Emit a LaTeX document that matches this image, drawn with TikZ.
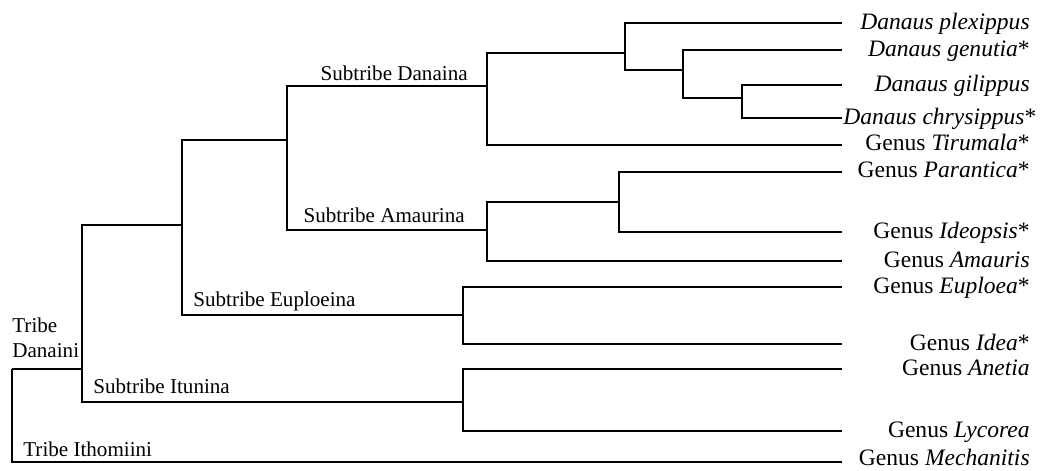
\documentclass[tikz,border=0pt]{standalone}
\usepackage{fontspec}
\setmainfont{Liberation Serif}
\begin{document}
\begin{tikzpicture}[
branch/.style={%
line width=1.6pt,
},
leaf/.style={%
font=\fontsize{13.4}{16}\selectfont,
anchor=base east,
inner sep=0pt,
},
clade/.style={%
font=\fontsize{12}{14.2}\selectfont,
inner sep=0pt,
}
]
\useasboundingbox(0,0)rectangle(20.82,-9.4);

%junctions
\coordinate(root)at(0.24,-7.38);
\coordinate(danaini)at(1.64,-7.38);
\coordinate(danam)at(3.64,-4.5);
\coordinate(danamb)at(5.74,-2.8);
\coordinate(danaina)at(9.74,-1.72);
\coordinate(danaus)at(12.5,-1.06);
\coordinate(danausb)at(13.66,-1.4);
\coordinate(danausc)at(14.84,-1.96);
\coordinate(amaurina)at(9.74,-4.6);
\coordinate(amaurinb)at(12.38,-4.04);
\coordinate(euploeina)at(9.26,-6.3);
\coordinate(itunina)at(9.26,-8.04);

%tips
\coordinate(plex)at(16.84,-0.46);
\coordinate(genu)at(16.84,-1.0);
\coordinate(gili)at(16.84,-1.7);
\coordinate(chry)at(16.84,-2.36);
\coordinate(tiru)at(16.84,-2.9);
\coordinate(para)at(16.84,-3.44);
\coordinate(ideo)at(16.84,-4.64);
\coordinate(amau)at(16.84,-5.22);
\coordinate(eupl)at(16.84,-5.74);
\coordinate(idea)at(16.84,-6.88);
\coordinate(anet)at(16.84,-7.38);
\coordinate(lyco)at(16.84,-8.62);
\coordinate(mech)at(16.84,-9.24);

%tree
\draw[branch](root)|-(danaini);
\draw[branch](root)|-(mech);
\draw[branch](danaini)|-(danam);
\draw[branch](danaini)|-(itunina);
\draw[branch](danam)|-(danamb);
\draw[branch](danam)|-(euploeina);
\draw[branch](danamb)|-(danaina);
\draw[branch](danamb)|-(amaurina);
\draw[branch](danaina)|-(danaus);
\draw[branch](danaina)|-(tiru);
\draw[branch](danaus)|-(plex);
\draw[branch](danaus)|-(danausb);
\draw[branch](danausb)|-(genu);
\draw[branch](danausb)|-(danausc);
\draw[branch](danausc)|-(gili);
\draw[branch](danausc)|-(chry);
\draw[branch](amaurina)|-(amaurinb);
\draw[branch](amaurina)|-(amau);
\draw[branch](amaurinb)|-(para);
\draw[branch](amaurinb)|-(ideo);
\draw[branch](euploeina)|-(eupl);
\draw[branch](euploeina)|-(idea);
\draw[branch](itunina)|-(anet);
\draw[branch](itunina)|-(lyco);

%clade names
\node[clade,anchor=base east](ldanaina)at(9.36,-1.6){Subtribe Danaina};
\node[clade,anchor=base east](lamaurina)at(9.3,-4.45){Subtribe Amaurina};
\node[clade,anchor=base west](leuploeina)at(3.86,-6.12){Subtribe Euploeina};
\node[clade,anchor=south west,align=left](ldanaini)at(0.24,-7.16){Tribe\\Danaini};
\node[clade,anchor=base west](litunina)at(1.86,-7.86){Subtribe Itunina};
\node[clade,anchor=base west](lithomiini)at(0.46,-9.12){Tribe Ithomiini};

%taxa
\node[leaf](lplex)at(20.6,-0.58){\textit{Danaus plexippus}};
\node[leaf](lgenu)at(20.6,-1.12){\textit{Danaus genutia}*};
\node[leaf](lgili)at(20.6,-1.82){\textit{Danaus gilippus}};
\node[leaf,anchor=base west](lchry)at(16.86,-2.48){\textit{Danaus chrysippus}*};
\node[leaf](ltiru)at(20.6,-3.0){Genus \textit{Tirumala}*};
\node[leaf](lpara)at(20.6,-3.54){Genus \textit{Parantica}*};
\node[leaf](lideo)at(20.6,-4.76){Genus \textit{Ideopsis}*};
\node[leaf](lamau)at(20.6,-5.34){Genus \textit{Amauris}};
\node[leaf](leupl)at(20.6,-5.86){Genus \textit{Euploea}*};
\node[leaf](lidea)at(20.6,-7.0){Genus \textit{Idea}*};
\node[leaf](lanet)at(20.6,-7.5){Genus \textit{Anetia}};
\node[leaf](llyco)at(20.6,-8.74){Genus \textit{Lycorea}};
\node[leaf](lmech)at(20.6,-9.3){Genus \textit{Mechanitis}};

\end{tikzpicture}
\end{document}
